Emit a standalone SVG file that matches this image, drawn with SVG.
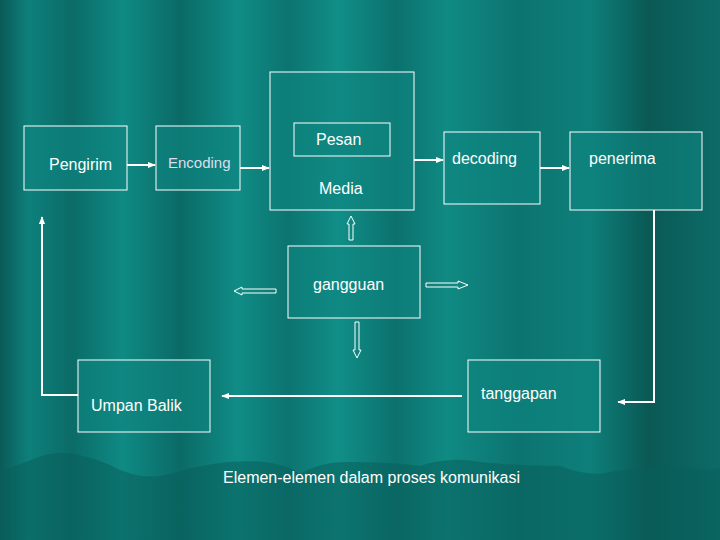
<svg xmlns="http://www.w3.org/2000/svg" width="720" height="540" viewBox="0 0 720 540">
<defs>
<linearGradient id="bg" x1="0" y1="0" x2="720" y2="0" gradientUnits="userSpaceOnUse">
<stop offset="0" stop-color="#0a5a57"/><stop offset="0.04" stop-color="#0e807b"/><stop offset="0.1" stop-color="#0b6b67"/>
<stop offset="0.17" stop-color="#0f8a84"/><stop offset="0.25" stop-color="#0b6a66"/><stop offset="0.33" stop-color="#108c86"/>
<stop offset="0.4" stop-color="#0c7470"/><stop offset="0.47" stop-color="#118e88"/><stop offset="0.55" stop-color="#0c716d"/>
<stop offset="0.62" stop-color="#108a84"/><stop offset="0.72" stop-color="#0c7470"/><stop offset="0.82" stop-color="#0e7f7a"/>
<stop offset="0.9" stop-color="#0a5955"/><stop offset="1" stop-color="#0c6b67"/>
</linearGradient>
<marker id="ah" viewBox="0 0 10 10" refX="9" refY="5" markerWidth="4" markerHeight="4" orient="auto"><path d="M0,1 L10,5 L0,9 z" fill="#fff"/></marker>
<style>
.box{fill:#0f8680;fill-opacity:0.6;stroke:#fff;stroke-width:1}
.t{font-family:"Liberation Sans",Arial,sans-serif;font-size:16px;fill:#fff}
.c{stroke:#fff;stroke-width:2;fill:none}
.h{fill:none;stroke:#fff;stroke-width:1}
</style>
</defs>
<rect width="720" height="540" fill="url(#bg)"/>
<path d="M0,472 Q25,462 45,455 Q70,448 110,465 Q140,482 170,474 Q220,458 265,462 Q290,466 300,474 Q320,462 345,462 Q390,462 420,466 Q450,456 480,462 Q520,466 560,466 Q580,474 600,474 Q640,466 690,468 Q705,472 720,468 L720,540 L0,540 z" fill="#0a5e5b" opacity="0.55"/>
<g id="n-pengirim"><rect class="box" x="24" y="126" width="103" height="64"/><text class="t" x="49" y="170">Pengirim</text></g>
<g id="n-encoding"><rect class="box" x="156" y="126" width="84" height="64"/><text class="t" x="168" y="168" style="font-size:15px;fill:#dde">Encoding</text></g>
<g id="n-media"><rect class="box" x="270" y="72" width="144" height="138"/><rect class="box" x="294" y="123" width="96" height="33"/><text class="t" x="316" y="145">Pesan</text><text class="t" x="319" y="194">Media</text></g>
<g id="n-decoding"><rect class="box" x="444" y="132" width="96" height="72"/><text class="t" x="452" y="164">decoding</text></g>
<g id="n-penerima"><rect class="box" x="570" y="132" width="132" height="78"/><text class="t" x="589" y="164">penerima</text></g>
<g id="n-gangguan"><rect class="box" x="288" y="246" width="132" height="72"/><text class="t" x="313" y="290">gangguan</text></g>
<g id="n-umpan"><rect class="box" x="78" y="360" width="132" height="72"/><text class="t" x="91" y="411">Umpan Balik</text></g>
<g id="n-tanggapan"><rect class="box" x="468" y="360" width="132" height="72"/><text class="t" x="481" y="399">tanggapan</text></g>
<text class="t" x="223" y="483">Elemen-elemen dalam proses komunikasi</text>
<g id="connectors">
<line class="c" x1="127" y1="165" x2="155" y2="165" marker-end="url(#ah)"/>
<line class="c" x1="240" y1="168" x2="269" y2="168" marker-end="url(#ah)"/>
<line class="c" x1="414" y1="160" x2="443" y2="160" marker-end="url(#ah)"/>
<line class="c" x1="540" y1="168" x2="569" y2="168" marker-end="url(#ah)"/>
<polyline class="c" points="654,210 654,402 618,402" marker-end="url(#ah)"/>
<line class="c" x1="462" y1="396" x2="222" y2="396" marker-end="url(#ah)"/>
<polyline class="c" points="78,395 42,395 42,217" marker-end="url(#ah)"/>
<path class="h" d="M349,240 L349,224 L347,224 L351,216 L355,224 L353,224 L353,240 z"/>
<path class="h" d="M355,322 L355,350 L353,350 L357,358 L361,350 L359,350 L359,322 z"/>
<path class="h" d="M276,289 L242,289 L242,287 L234,291 L242,295 L242,293 L276,293 z"/>
<path class="h" d="M426,283 L458,283 L458,281 L468,285 L458,289 L458,287 L426,287 z"/>
</g>
</svg>
